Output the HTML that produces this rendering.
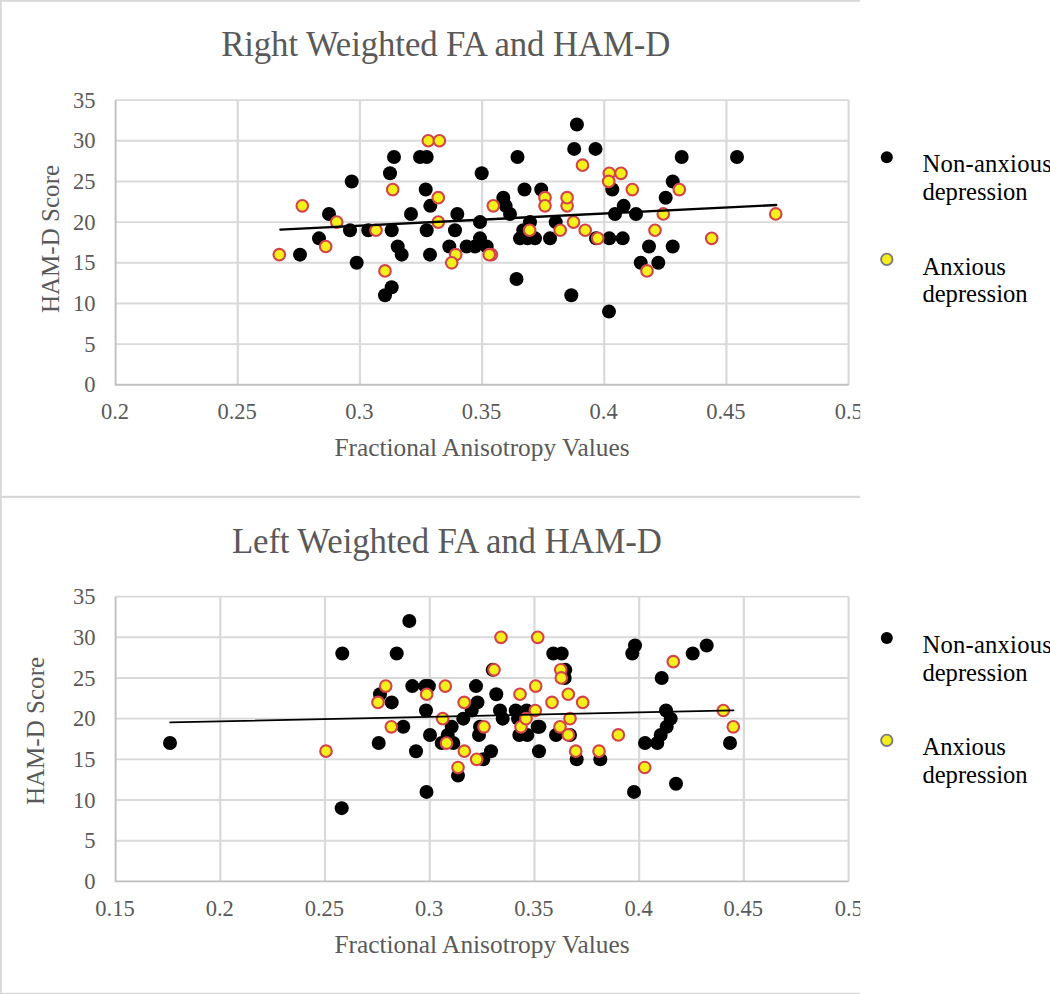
<!DOCTYPE html>
<html><head><meta charset="utf-8"><title>Weighted FA and HAM-D</title>
<style>
html,body{margin:0;padding:0;background:#fff;overflow:hidden}
body{width:1050px;height:994px;position:relative}
svg{position:absolute;left:0;top:0;display:block}
text{font-family:"Liberation Serif",serif}
</style></head><body>
<svg width="1050" height="994" viewBox="0 0 1050 994">
<rect x="0" y="0" width="1050" height="994" fill="#ffffff"/>
<defs><clipPath id="cl"><rect x="0" y="0" width="860.2" height="994"/></clipPath></defs>
<!-- frame -->
<g fill="#d7d7d9">
<rect x="0" y="0" width="860" height="1.8"/>
<rect x="0" y="0" width="1.8" height="994"/>
<rect x="0" y="495.8" width="860" height="2.1"/>
<rect x="0" y="992.8" width="860" height="1.2"/>
</g>
<!-- top chart -->
<line x1="115.6" x2="848.6" y1="344.12" y2="344.12" stroke="#d9d9d9" stroke-width="1.9"/>
<line x1="115.6" x2="848.6" y1="303.45" y2="303.45" stroke="#d9d9d9" stroke-width="1.9"/>
<line x1="115.6" x2="848.6" y1="262.78" y2="262.78" stroke="#d9d9d9" stroke-width="1.9"/>
<line x1="115.6" x2="848.6" y1="222.10" y2="222.10" stroke="#d9d9d9" stroke-width="1.9"/>
<line x1="115.6" x2="848.6" y1="181.43" y2="181.43" stroke="#d9d9d9" stroke-width="1.9"/>
<line x1="115.6" x2="848.6" y1="140.75" y2="140.75" stroke="#d9d9d9" stroke-width="1.9"/>
<line x1="115.6" x2="848.6" y1="100.08" y2="100.08" stroke="#d9d9d9" stroke-width="1.9"/>
<line x1="237.77" x2="237.77" y1="100.08" y2="384.8" stroke="#d9d9d9" stroke-width="2.2"/>
<line x1="359.93" x2="359.93" y1="100.08" y2="384.8" stroke="#d9d9d9" stroke-width="2.2"/>
<line x1="482.10" x2="482.10" y1="100.08" y2="384.8" stroke="#d9d9d9" stroke-width="2.2"/>
<line x1="604.27" x2="604.27" y1="100.08" y2="384.8" stroke="#d9d9d9" stroke-width="2.2"/>
<line x1="726.43" x2="726.43" y1="100.08" y2="384.8" stroke="#d9d9d9" stroke-width="2.2"/>
<line x1="848.60" x2="848.60" y1="100.08" y2="384.8" stroke="#d9d9d9" stroke-width="2.2"/>
<polyline points="115.6,100.08 115.6,384.8 848.6,384.8" fill="none" stroke="#bfbfbf" stroke-width="1.9" stroke-linejoin="round"/>
<text x="95.4" y="392.40" text-anchor="end" font-size="22.5" fill="#595959">0</text>
<text x="95.4" y="351.73" text-anchor="end" font-size="22.5" fill="#595959">5</text>
<text x="95.4" y="311.05" text-anchor="end" font-size="22.5" fill="#595959">10</text>
<text x="95.4" y="270.38" text-anchor="end" font-size="22.5" fill="#595959">15</text>
<text x="95.4" y="229.70" text-anchor="end" font-size="22.5" fill="#595959">20</text>
<text x="95.4" y="189.03" text-anchor="end" font-size="22.5" fill="#595959">25</text>
<text x="95.4" y="148.35" text-anchor="end" font-size="22.5" fill="#595959">30</text>
<text x="95.4" y="107.68" text-anchor="end" font-size="22.5" fill="#595959">35</text>
<text x="115.00" y="418.9" text-anchor="middle" font-size="22.5" fill="#595959">0.2</text>
<text x="237.17" y="418.9" text-anchor="middle" font-size="22.5" fill="#595959">0.25</text>
<text x="359.33" y="418.9" text-anchor="middle" font-size="22.5" fill="#595959">0.3</text>
<text x="481.50" y="418.9" text-anchor="middle" font-size="22.5" fill="#595959">0.35</text>
<text x="603.67" y="418.9" text-anchor="middle" font-size="22.5" fill="#595959">0.4</text>
<text x="725.83" y="418.9" text-anchor="middle" font-size="22.5" fill="#595959">0.45</text>
<text x="848.80" y="418.9" text-anchor="middle" font-size="22.5" fill="#595959" clip-path="url(#cl)">0.5</text>
<text x="445.8" y="56.2" text-anchor="middle" font-size="34.8" textLength="449.3" lengthAdjust="spacing" fill="#595959">Right Weighted FA and HAM-D</text>
<text x="482" y="455.8" text-anchor="middle" font-size="25.35" fill="#595959">Fractional Anisotropy Values</text>
<text transform="translate(59.4,239) rotate(-90)" text-anchor="middle" font-size="25.05" fill="#595959">HAM-D Score</text>
<circle cx="576.9" cy="124.48" r="7" fill="#000"/>
<circle cx="574.2" cy="148.89" r="7" fill="#000"/>
<circle cx="595.5" cy="148.89" r="7" fill="#000"/>
<circle cx="517.5" cy="157.02" r="7" fill="#000"/>
<circle cx="394" cy="157.02" r="7" fill="#000"/>
<circle cx="420" cy="157.02" r="7" fill="#000"/>
<circle cx="426.7" cy="157.02" r="7" fill="#000"/>
<circle cx="681.7" cy="157.02" r="7" fill="#000"/>
<circle cx="737" cy="157.02" r="7" fill="#000"/>
<circle cx="390" cy="173.29" r="7" fill="#000"/>
<circle cx="481.7" cy="173.29" r="7" fill="#000"/>
<circle cx="351.7" cy="181.43" r="7" fill="#000"/>
<circle cx="672.7" cy="181.43" r="7" fill="#000"/>
<circle cx="425.7" cy="189.56" r="7" fill="#000"/>
<circle cx="524.5" cy="189.56" r="7" fill="#000"/>
<circle cx="541.2" cy="189.56" r="7" fill="#000"/>
<circle cx="612.3" cy="189.56" r="7" fill="#000"/>
<circle cx="503.3" cy="197.70" r="7" fill="#000"/>
<circle cx="665.7" cy="197.70" r="7" fill="#000"/>
<circle cx="430.3" cy="205.83" r="7" fill="#000"/>
<circle cx="505.7" cy="205.83" r="7" fill="#000"/>
<circle cx="623.7" cy="205.83" r="7" fill="#000"/>
<circle cx="510" cy="213.97" r="7" fill="#000"/>
<circle cx="329" cy="213.97" r="7" fill="#000"/>
<circle cx="411" cy="213.97" r="7" fill="#000"/>
<circle cx="457.3" cy="213.97" r="7" fill="#000"/>
<circle cx="615" cy="213.97" r="7" fill="#000"/>
<circle cx="636" cy="213.97" r="7" fill="#000"/>
<circle cx="480" cy="222.10" r="7" fill="#000"/>
<circle cx="530" cy="222.10" r="7" fill="#000"/>
<circle cx="555.7" cy="222.10" r="7" fill="#000"/>
<circle cx="350" cy="230.24" r="7" fill="#000"/>
<circle cx="368.3" cy="230.24" r="7" fill="#000"/>
<circle cx="391.7" cy="230.24" r="7" fill="#000"/>
<circle cx="426.7" cy="230.24" r="7" fill="#000"/>
<circle cx="455" cy="230.24" r="7" fill="#000"/>
<circle cx="523.3" cy="230.24" r="7" fill="#000"/>
<circle cx="319" cy="238.37" r="7" fill="#000"/>
<circle cx="480" cy="238.37" r="7" fill="#000"/>
<circle cx="520" cy="238.37" r="7" fill="#000"/>
<circle cx="527.5" cy="238.37" r="7" fill="#000"/>
<circle cx="535" cy="238.37" r="7" fill="#000"/>
<circle cx="550" cy="238.37" r="7" fill="#000"/>
<circle cx="596" cy="238.37" r="7" fill="#000"/>
<circle cx="609.3" cy="238.37" r="7" fill="#000"/>
<circle cx="622.7" cy="238.37" r="7" fill="#000"/>
<circle cx="397.7" cy="246.51" r="7" fill="#000"/>
<circle cx="449.3" cy="246.51" r="7" fill="#000"/>
<circle cx="466.7" cy="246.51" r="7" fill="#000"/>
<circle cx="475" cy="246.51" r="7" fill="#000"/>
<circle cx="486.7" cy="246.51" r="7" fill="#000"/>
<circle cx="649" cy="246.51" r="7" fill="#000"/>
<circle cx="672.7" cy="246.51" r="7" fill="#000"/>
<circle cx="300" cy="254.64" r="7" fill="#000"/>
<circle cx="401.7" cy="254.64" r="7" fill="#000"/>
<circle cx="430" cy="254.64" r="7" fill="#000"/>
<circle cx="356.7" cy="262.78" r="7" fill="#000"/>
<circle cx="640.7" cy="262.78" r="7" fill="#000"/>
<circle cx="658.3" cy="262.78" r="7" fill="#000"/>
<circle cx="516.5" cy="279.05" r="7" fill="#000"/>
<circle cx="391.7" cy="287.18" r="7" fill="#000"/>
<circle cx="385" cy="295.31" r="7" fill="#000"/>
<circle cx="571.3" cy="295.31" r="7" fill="#000"/>
<circle cx="609" cy="311.59" r="7" fill="#000"/>
<circle cx="428.3" cy="140.75" r="5.8" fill="#f4f01a" stroke="#d2444a" stroke-width="2.1"/>
<circle cx="439.4" cy="140.75" r="5.8" fill="#f4f01a" stroke="#d2444a" stroke-width="2.1"/>
<circle cx="582.5" cy="165.16" r="5.8" fill="#f4f01a" stroke="#d2444a" stroke-width="2.1"/>
<circle cx="609.3" cy="173.29" r="5.8" fill="#f4f01a" stroke="#d2444a" stroke-width="2.1"/>
<circle cx="621" cy="173.29" r="5.8" fill="#f4f01a" stroke="#d2444a" stroke-width="2.1"/>
<circle cx="608.7" cy="181.43" r="5.8" fill="#f4f01a" stroke="#d2444a" stroke-width="2.1"/>
<circle cx="392.7" cy="189.56" r="5.8" fill="#f4f01a" stroke="#d2444a" stroke-width="2.1"/>
<circle cx="632.3" cy="189.56" r="5.8" fill="#f4f01a" stroke="#d2444a" stroke-width="2.1"/>
<circle cx="679.3" cy="189.56" r="5.8" fill="#f4f01a" stroke="#d2444a" stroke-width="2.1"/>
<circle cx="438.3" cy="197.70" r="5.8" fill="#f4f01a" stroke="#d2444a" stroke-width="2.1"/>
<circle cx="545" cy="197.70" r="5.8" fill="#f4f01a" stroke="#d2444a" stroke-width="2.1"/>
<circle cx="302.3" cy="205.83" r="5.8" fill="#f4f01a" stroke="#d2444a" stroke-width="2.1"/>
<circle cx="493.3" cy="205.83" r="5.8" fill="#f4f01a" stroke="#d2444a" stroke-width="2.1"/>
<circle cx="545" cy="205.83" r="5.8" fill="#f4f01a" stroke="#d2444a" stroke-width="2.1"/>
<circle cx="567.1" cy="205.83" r="5.8" fill="#f4f01a" stroke="#d2444a" stroke-width="2.1"/>
<circle cx="567.1" cy="197.70" r="5.8" fill="#f4f01a" stroke="#d2444a" stroke-width="2.1"/>
<circle cx="663.3" cy="213.97" r="5.8" fill="#f4f01a" stroke="#d2444a" stroke-width="2.1"/>
<circle cx="775.7" cy="213.97" r="5.8" fill="#f4f01a" stroke="#d2444a" stroke-width="2.1"/>
<circle cx="336.7" cy="222.10" r="5.8" fill="#f4f01a" stroke="#d2444a" stroke-width="2.1"/>
<circle cx="438.3" cy="222.10" r="5.8" fill="#f4f01a" stroke="#d2444a" stroke-width="2.1"/>
<circle cx="573.5" cy="222.10" r="5.8" fill="#f4f01a" stroke="#d2444a" stroke-width="2.1"/>
<circle cx="376" cy="230.24" r="5.8" fill="#f4f01a" stroke="#d2444a" stroke-width="2.1"/>
<circle cx="529.6" cy="230.24" r="5.8" fill="#f4f01a" stroke="#d2444a" stroke-width="2.1"/>
<circle cx="560.2" cy="230.24" r="5.8" fill="#f4f01a" stroke="#d2444a" stroke-width="2.1"/>
<circle cx="585.2" cy="230.24" r="5.8" fill="#f4f01a" stroke="#d2444a" stroke-width="2.1"/>
<circle cx="655" cy="230.24" r="5.8" fill="#f4f01a" stroke="#d2444a" stroke-width="2.1"/>
<circle cx="597.7" cy="238.37" r="5.8" fill="#f4f01a" stroke="#d2444a" stroke-width="2.1"/>
<circle cx="711.7" cy="238.37" r="5.8" fill="#f4f01a" stroke="#d2444a" stroke-width="2.1"/>
<circle cx="325.7" cy="246.51" r="5.8" fill="#f4f01a" stroke="#d2444a" stroke-width="2.1"/>
<circle cx="279.3" cy="254.64" r="5.8" fill="#f4f01a" stroke="#d2444a" stroke-width="2.1"/>
<circle cx="455.7" cy="254.64" r="5.8" fill="#f4f01a" stroke="#d2444a" stroke-width="2.1"/>
<circle cx="491.4" cy="254.64" r="5.8" fill="#f4f01a" stroke="#d2444a" stroke-width="2.1"/>
<circle cx="489.2" cy="254.64" r="5.8" fill="#f4f01a" stroke="#d2444a" stroke-width="2.1"/>
<circle cx="451.7" cy="262.78" r="5.8" fill="#f4f01a" stroke="#d2444a" stroke-width="2.1"/>
<circle cx="385" cy="270.91" r="5.8" fill="#f4f01a" stroke="#d2444a" stroke-width="2.1"/>
<circle cx="647" cy="270.91" r="5.8" fill="#f4f01a" stroke="#d2444a" stroke-width="2.1"/>
<line x1="280.4" y1="229.6" x2="776.2" y2="205.0" stroke="#000" stroke-width="2.4" stroke-linecap="round"/>
<circle cx="886.8" cy="157.2" r="6" fill="#000"/>
<circle cx="886.8" cy="259.4" r="5.7" fill="#f3ee1c" stroke="#7a7680" stroke-width="1.8"/>
<text x="922.4" y="171.8" font-size="24.6" textLength="129.4" lengthAdjust="spacing" fill="#000">Non-anxious</text>
<text x="922.4" y="199.8" font-size="24.6" fill="#000">depression</text>
<text x="922.4" y="274.9" font-size="24.6" fill="#000">Anxious</text>
<text x="922.4" y="302.1" font-size="24.6" fill="#000">depression</text>
<!-- bottom chart -->
<line x1="115.6" x2="848.6" y1="840.71" y2="840.71" stroke="#d9d9d9" stroke-width="1.9"/>
<line x1="115.6" x2="848.6" y1="800.03" y2="800.03" stroke="#d9d9d9" stroke-width="1.9"/>
<line x1="115.6" x2="848.6" y1="759.35" y2="759.35" stroke="#d9d9d9" stroke-width="1.9"/>
<line x1="115.6" x2="848.6" y1="718.66" y2="718.66" stroke="#d9d9d9" stroke-width="1.9"/>
<line x1="115.6" x2="848.6" y1="677.97" y2="677.97" stroke="#d9d9d9" stroke-width="1.9"/>
<line x1="115.6" x2="848.6" y1="637.29" y2="637.29" stroke="#d9d9d9" stroke-width="1.9"/>
<line x1="115.6" x2="848.6" y1="596.61" y2="596.61" stroke="#d9d9d9" stroke-width="1.9"/>
<line x1="220.31" x2="220.31" y1="596.61" y2="881.4" stroke="#d9d9d9" stroke-width="2.2"/>
<line x1="325.03" x2="325.03" y1="596.61" y2="881.4" stroke="#d9d9d9" stroke-width="2.2"/>
<line x1="429.74" x2="429.74" y1="596.61" y2="881.4" stroke="#d9d9d9" stroke-width="2.2"/>
<line x1="534.46" x2="534.46" y1="596.61" y2="881.4" stroke="#d9d9d9" stroke-width="2.2"/>
<line x1="639.17" x2="639.17" y1="596.61" y2="881.4" stroke="#d9d9d9" stroke-width="2.2"/>
<line x1="743.89" x2="743.89" y1="596.61" y2="881.4" stroke="#d9d9d9" stroke-width="2.2"/>
<line x1="848.60" x2="848.60" y1="596.61" y2="881.4" stroke="#d9d9d9" stroke-width="2.2"/>
<polyline points="115.6,596.61 115.6,881.4 848.6,881.4" fill="none" stroke="#bfbfbf" stroke-width="1.9" stroke-linejoin="round"/>
<text x="95.4" y="889.00" text-anchor="end" font-size="22.5" fill="#595959">0</text>
<text x="95.4" y="848.31" text-anchor="end" font-size="22.5" fill="#595959">5</text>
<text x="95.4" y="807.63" text-anchor="end" font-size="22.5" fill="#595959">10</text>
<text x="95.4" y="766.95" text-anchor="end" font-size="22.5" fill="#595959">15</text>
<text x="95.4" y="726.26" text-anchor="end" font-size="22.5" fill="#595959">20</text>
<text x="95.4" y="685.57" text-anchor="end" font-size="22.5" fill="#595959">25</text>
<text x="95.4" y="644.89" text-anchor="end" font-size="22.5" fill="#595959">30</text>
<text x="95.4" y="604.21" text-anchor="end" font-size="22.5" fill="#595959">35</text>
<text x="115.00" y="915.8" text-anchor="middle" font-size="22.5" fill="#595959">0.15</text>
<text x="219.71" y="915.8" text-anchor="middle" font-size="22.5" fill="#595959">0.2</text>
<text x="324.43" y="915.8" text-anchor="middle" font-size="22.5" fill="#595959">0.25</text>
<text x="429.14" y="915.8" text-anchor="middle" font-size="22.5" fill="#595959">0.3</text>
<text x="533.86" y="915.8" text-anchor="middle" font-size="22.5" fill="#595959">0.35</text>
<text x="638.57" y="915.8" text-anchor="middle" font-size="22.5" fill="#595959">0.4</text>
<text x="743.29" y="915.8" text-anchor="middle" font-size="22.5" fill="#595959">0.45</text>
<text x="848.80" y="915.8" text-anchor="middle" font-size="22.5" fill="#595959" clip-path="url(#cl)">0.5</text>
<text x="446.9" y="552.6" text-anchor="middle" font-size="34.8" textLength="430.0" lengthAdjust="spacing" fill="#595959">Left Weighted FA and HAM-D</text>
<text x="482" y="952.7" text-anchor="middle" font-size="25.35" fill="#595959">Fractional Anisotropy Values</text>
<text transform="translate(44.3,731) rotate(-90)" text-anchor="middle" font-size="25.05" fill="#595959">HAM-D Score</text>
<circle cx="170" cy="743.07" r="7" fill="#000"/>
<circle cx="409.3" cy="621.02" r="7" fill="#000"/>
<circle cx="342.3" cy="653.56" r="7" fill="#000"/>
<circle cx="396.7" cy="653.56" r="7" fill="#000"/>
<circle cx="553.3" cy="653.56" r="7" fill="#000"/>
<circle cx="561.7" cy="653.56" r="7" fill="#000"/>
<circle cx="632.3" cy="653.56" r="7" fill="#000"/>
<circle cx="692.7" cy="653.56" r="7" fill="#000"/>
<circle cx="635" cy="645.43" r="7" fill="#000"/>
<circle cx="706.7" cy="645.43" r="7" fill="#000"/>
<circle cx="492.7" cy="669.84" r="7" fill="#000"/>
<circle cx="565.3" cy="669.84" r="7" fill="#000"/>
<circle cx="564.7" cy="677.97" r="7" fill="#000"/>
<circle cx="661.7" cy="677.97" r="7" fill="#000"/>
<circle cx="412.3" cy="686.11" r="7" fill="#000"/>
<circle cx="425.3" cy="686.11" r="7" fill="#000"/>
<circle cx="428.9" cy="686.11" r="7" fill="#000"/>
<circle cx="476" cy="686.11" r="7" fill="#000"/>
<circle cx="380" cy="694.25" r="7" fill="#000"/>
<circle cx="496.3" cy="694.25" r="7" fill="#000"/>
<circle cx="391.7" cy="702.39" r="7" fill="#000"/>
<circle cx="477.5" cy="702.39" r="7" fill="#000"/>
<circle cx="426" cy="710.52" r="7" fill="#000"/>
<circle cx="471.7" cy="710.52" r="7" fill="#000"/>
<circle cx="500" cy="710.52" r="7" fill="#000"/>
<circle cx="515.7" cy="710.52" r="7" fill="#000"/>
<circle cx="526.7" cy="710.52" r="7" fill="#000"/>
<circle cx="666" cy="710.52" r="7" fill="#000"/>
<circle cx="463.3" cy="718.66" r="7" fill="#000"/>
<circle cx="502.7" cy="718.66" r="7" fill="#000"/>
<circle cx="518" cy="718.66" r="7" fill="#000"/>
<circle cx="670.7" cy="718.66" r="7" fill="#000"/>
<circle cx="403.3" cy="726.80" r="7" fill="#000"/>
<circle cx="451.7" cy="726.80" r="7" fill="#000"/>
<circle cx="480" cy="726.80" r="7" fill="#000"/>
<circle cx="537.7" cy="726.80" r="7" fill="#000"/>
<circle cx="539.4" cy="726.80" r="7" fill="#000"/>
<circle cx="666.7" cy="726.80" r="7" fill="#000"/>
<circle cx="430" cy="734.93" r="7" fill="#000"/>
<circle cx="447.7" cy="734.93" r="7" fill="#000"/>
<circle cx="479" cy="734.93" r="7" fill="#000"/>
<circle cx="519.3" cy="734.93" r="7" fill="#000"/>
<circle cx="527.3" cy="734.93" r="7" fill="#000"/>
<circle cx="556" cy="734.93" r="7" fill="#000"/>
<circle cx="570" cy="734.93" r="7" fill="#000"/>
<circle cx="660.7" cy="734.93" r="7" fill="#000"/>
<circle cx="378.7" cy="743.07" r="7" fill="#000"/>
<circle cx="441.7" cy="743.07" r="7" fill="#000"/>
<circle cx="453.3" cy="743.07" r="7" fill="#000"/>
<circle cx="645" cy="743.07" r="7" fill="#000"/>
<circle cx="657.3" cy="743.07" r="7" fill="#000"/>
<circle cx="730" cy="743.07" r="7" fill="#000"/>
<circle cx="416" cy="751.21" r="7" fill="#000"/>
<circle cx="491" cy="751.21" r="7" fill="#000"/>
<circle cx="539" cy="751.21" r="7" fill="#000"/>
<circle cx="483.3" cy="759.35" r="7" fill="#000"/>
<circle cx="576.7" cy="759.35" r="7" fill="#000"/>
<circle cx="600.3" cy="759.35" r="7" fill="#000"/>
<circle cx="458" cy="775.62" r="7" fill="#000"/>
<circle cx="676" cy="783.76" r="7" fill="#000"/>
<circle cx="426.5" cy="791.89" r="7" fill="#000"/>
<circle cx="634" cy="791.89" r="7" fill="#000"/>
<circle cx="341.7" cy="808.17" r="7" fill="#000"/>
<circle cx="501" cy="637.29" r="5.8" fill="#f4f01a" stroke="#d2444a" stroke-width="2.1"/>
<circle cx="537.7" cy="637.29" r="5.8" fill="#f4f01a" stroke="#d2444a" stroke-width="2.1"/>
<circle cx="673.3" cy="661.70" r="5.8" fill="#f4f01a" stroke="#d2444a" stroke-width="2.1"/>
<circle cx="494" cy="669.84" r="5.8" fill="#f4f01a" stroke="#d2444a" stroke-width="2.1"/>
<circle cx="560.7" cy="669.84" r="5.8" fill="#f4f01a" stroke="#d2444a" stroke-width="2.1"/>
<circle cx="561.3" cy="677.97" r="5.8" fill="#f4f01a" stroke="#d2444a" stroke-width="2.1"/>
<circle cx="385.7" cy="686.11" r="5.8" fill="#f4f01a" stroke="#d2444a" stroke-width="2.1"/>
<circle cx="445.3" cy="686.11" r="5.8" fill="#f4f01a" stroke="#d2444a" stroke-width="2.1"/>
<circle cx="535.7" cy="686.11" r="5.8" fill="#f4f01a" stroke="#d2444a" stroke-width="2.1"/>
<circle cx="426.7" cy="694.25" r="5.8" fill="#f4f01a" stroke="#d2444a" stroke-width="2.1"/>
<circle cx="520" cy="694.25" r="5.8" fill="#f4f01a" stroke="#d2444a" stroke-width="2.1"/>
<circle cx="568.3" cy="694.25" r="5.8" fill="#f4f01a" stroke="#d2444a" stroke-width="2.1"/>
<circle cx="378" cy="702.39" r="5.8" fill="#f4f01a" stroke="#d2444a" stroke-width="2.1"/>
<circle cx="464.2" cy="702.39" r="5.8" fill="#f4f01a" stroke="#d2444a" stroke-width="2.1"/>
<circle cx="552" cy="702.39" r="5.8" fill="#f4f01a" stroke="#d2444a" stroke-width="2.1"/>
<circle cx="582.7" cy="702.39" r="5.8" fill="#f4f01a" stroke="#d2444a" stroke-width="2.1"/>
<circle cx="535.3" cy="710.52" r="5.8" fill="#f4f01a" stroke="#d2444a" stroke-width="2.1"/>
<circle cx="723.3" cy="710.52" r="5.8" fill="#f4f01a" stroke="#d2444a" stroke-width="2.1"/>
<circle cx="442.7" cy="718.66" r="5.8" fill="#f4f01a" stroke="#d2444a" stroke-width="2.1"/>
<circle cx="570" cy="718.66" r="5.8" fill="#f4f01a" stroke="#d2444a" stroke-width="2.1"/>
<circle cx="391.3" cy="726.80" r="5.8" fill="#f4f01a" stroke="#d2444a" stroke-width="2.1"/>
<circle cx="484" cy="726.80" r="5.8" fill="#f4f01a" stroke="#d2444a" stroke-width="2.1"/>
<circle cx="521" cy="726.80" r="5.8" fill="#f4f01a" stroke="#d2444a" stroke-width="2.1"/>
<circle cx="526" cy="718.66" r="5.8" fill="#f4f01a" stroke="#d2444a" stroke-width="2.1"/>
<circle cx="560" cy="726.80" r="5.8" fill="#f4f01a" stroke="#d2444a" stroke-width="2.1"/>
<circle cx="733.3" cy="726.80" r="5.8" fill="#f4f01a" stroke="#d2444a" stroke-width="2.1"/>
<circle cx="568.3" cy="734.93" r="5.8" fill="#f4f01a" stroke="#d2444a" stroke-width="2.1"/>
<circle cx="618.3" cy="734.93" r="5.8" fill="#f4f01a" stroke="#d2444a" stroke-width="2.1"/>
<circle cx="446.5" cy="743.07" r="5.8" fill="#f4f01a" stroke="#d2444a" stroke-width="2.1"/>
<circle cx="326" cy="751.21" r="5.8" fill="#f4f01a" stroke="#d2444a" stroke-width="2.1"/>
<circle cx="464.3" cy="751.21" r="5.8" fill="#f4f01a" stroke="#d2444a" stroke-width="2.1"/>
<circle cx="575.7" cy="751.21" r="5.8" fill="#f4f01a" stroke="#d2444a" stroke-width="2.1"/>
<circle cx="599" cy="751.21" r="5.8" fill="#f4f01a" stroke="#d2444a" stroke-width="2.1"/>
<circle cx="476.7" cy="759.35" r="5.8" fill="#f4f01a" stroke="#d2444a" stroke-width="2.1"/>
<circle cx="458" cy="767.48" r="5.8" fill="#f4f01a" stroke="#d2444a" stroke-width="2.1"/>
<circle cx="644.7" cy="767.48" r="5.8" fill="#f4f01a" stroke="#d2444a" stroke-width="2.1"/>
<line x1="170.2" y1="722.4" x2="733.6" y2="710.3" stroke="#000" stroke-width="1.8" stroke-linecap="round"/>
<circle cx="886.8" cy="638.1" r="6" fill="#000"/>
<circle cx="886.8" cy="740.3000000000001" r="5.7" fill="#f3ee1c" stroke="#7a7680" stroke-width="1.8"/>
<text x="922.4" y="653.0" font-size="24.6" textLength="129.4" lengthAdjust="spacing" fill="#000">Non-anxious</text>
<text x="922.4" y="680.7" font-size="24.6" fill="#000">depression</text>
<text x="922.4" y="754.9" font-size="24.6" fill="#000">Anxious</text>
<text x="922.4" y="782.5" font-size="24.6" fill="#000">depression</text>
</svg>
</body></html>
